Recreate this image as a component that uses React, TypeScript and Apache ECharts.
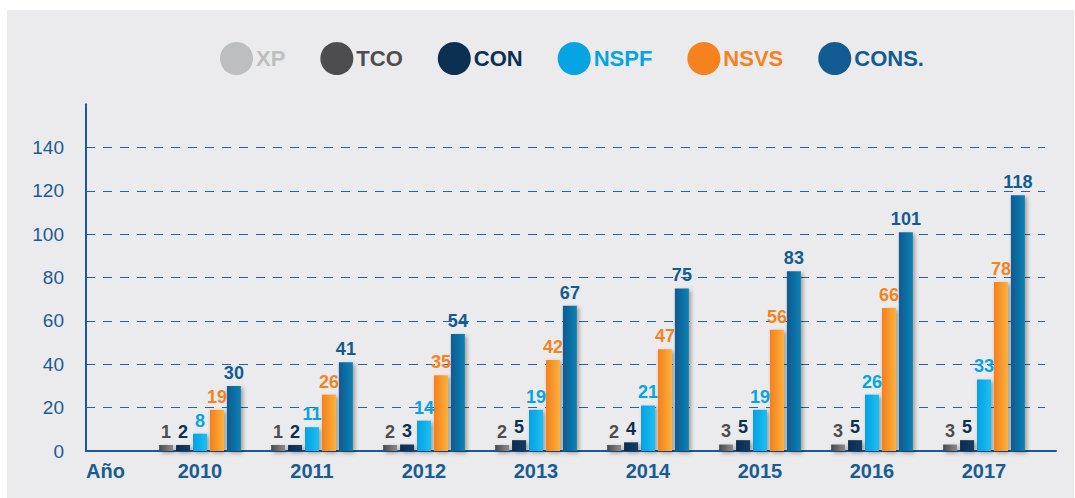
import React, { useEffect, useRef } from "react";
import * as echarts from "echarts";

const years = ["2010", "2011", "2012", "2013", "2014", "2015", "2016", "2017"];
const seriesNames = ["XP", "TCO", "CON", "NSPF", "NSVS", "CONS."];
const xpValues: number[] = [];
const tcoValues = [1, 1, 2, 2, 2, 3, 3, 3];
const conValues = [2, 2, 3, 5, 4, 5, 5, 5];
const nspfValues = [8, 11, 14, 19, 21, 19, 26, 33];
const nsvsValues = [19, 26, 35, 42, 47, 56, 66, 78];
const consValues = [30, 41, 54, 67, 75, 83, 101, 118];
const yTicks = { min: 0, max: 160, interval: 20 };

const FONT = "'Liberation Sans', Arial, Helvetica, sans-serif";
const AXIS = "#1a5b95";

const colors: Record<string, string> = {
  XP: "#bdbec0",
  TCO: "#4d4d4f",
  CON: "#0c2f52",
  NSPF: "#06a4e2",
  NSVS: "#f5821f",
  "CONS.": "#125b93",
};
const gradients: Record<string, [string, string]> = {
  TCO: ["#4a4a4c", "#8d8d90"],
  CON: ["#0b2c4e", "#123e68"],
  NSPF: ["#05a0de", "#19c0f2"],
  NSVS: ["#f47f20", "#fbb13a"],
  "CONS.": ["#125a92", "#0a82b2"],
};

export default function App() {
  const ref = useRef<HTMLDivElement>(null);
  useEffect(() => {
    if (!ref.current) return;
    const chart = echarts.init(ref.current, undefined, { renderer: "svg" });
    const barSeries = (name: string, data: number[]) => ({
      name,
      type: "bar",
      xAxisIndex: 0,
      yAxisIndex: 0,
      data,
      barWidth: 14,
      barGap: "21%",
      barMinHeight: 6,
      itemStyle: {
        color: new echarts.graphic.LinearGradient(0, 0, 1, 0, [
          { offset: 0, color: gradients[name][0] },
          { offset: 1, color: gradients[name][1] },
        ]),
        shadowColor: "rgba(0,0,0,0.35)",
        shadowBlur: 4,
        shadowOffsetX: 2,
        shadowOffsetY: 2,
      },
      label: {
        show: true,
        position: "top",
        distance: 4,
        color: colors[name],
        fontFamily: FONT,
        fontWeight: "bold",
        fontSize: 18,
      },
    });
    chart.setOption({
      animation: false,
      backgroundColor: "#ebebed",
      legend: {
        left: 208,
        top: 27,
        itemWidth: 33,
        itemHeight: 33,
        itemGap: 35,
        icon: "circle",
        selectedMode: false,
        data: seriesNames.map((n) => ({
          name: n,
          itemStyle: { color: colors[n], shadowBlur: 0 },
          textStyle: { color: colors[n] },
        })),
        textStyle: {
          fontFamily: FONT,
          fontWeight: "bold",
          fontSize: 22,
          padding: [0, 0, 0, -2],
        },
      },
      grid: [
        { left: 137, right: 34, top: 94.3, bottom: 47 },
        { left: 79, right: 29, top: 94.3, bottom: 47 },
        { left: 79, right: 18, top: 94.3, bottom: 47 },
      ],
      xAxis: [
        {
          type: "category",
          gridIndex: 0,
          data: years,
          axisLine: { show: false },
          axisTick: { show: false },
          axisLabel: {
            color: AXIS,
            fontFamily: FONT,
            fontWeight: "bold",
            fontSize: 20,
            margin: 10,
          },
        },
        {
          type: "value",
          gridIndex: 1,
          min: 0,
          max: 1,
          show: false,
        },
        {
          type: "value",
          gridIndex: 2,
          min: 0,
          max: 1,
          axisLine: { show: true, lineStyle: { color: AXIS, width: 2 } },
          axisTick: { show: false },
          axisLabel: { show: false },
          splitLine: { show: false },
        },
      ],
      yAxis: [
        { type: "value", gridIndex: 0, ...yTicks, show: false },
        {
          type: "value",
          gridIndex: 1,
          ...yTicks,
          axisLine: { show: true, lineStyle: { color: AXIS, width: 2 } },
          axisTick: { show: false },
          axisLabel: {
            color: AXIS,
            fontFamily: FONT,
            fontSize: 19,
            margin: 22,
            showMaxLabel: false,
          },
          splitLine: {
            show: true,
            showMinLine: false,
            showMaxLine: false,
            lineStyle: { color: "#2a6299", width: 1, type: [9, 8] },
          },
        },
        { type: "value", gridIndex: 2, ...yTicks, show: false },
      ],
      graphic: [
        {
          type: "text",
          left: 79,
          top: 451,
          style: {
            text: "Año",
            fill: AXIS,
            font: `bold 20px ${FONT}`,
          },
        },
      ],
      series: [
        {
          name: "XP",
          type: "line",
          xAxisIndex: 1,
          yAxisIndex: 1,
          data: xpValues,
          itemStyle: { color: colors.XP },
          lineStyle: { color: colors.XP },
        },
        barSeries("TCO", tcoValues),
        barSeries("CON", conValues),
        barSeries("NSPF", nspfValues),
        barSeries("NSVS", nsvsValues),
        barSeries("CONS.", consValues),
      ],
    });
    return () => chart.dispose();
  }, []);
  return (
    <div
      style={{
        position: "fixed",
        left: 0,
        top: 0,
        width: 1075,
        height: 498,
        background: "#ffffff",
      }}
    >
      <div
        ref={ref}
        style={{ position: "absolute", left: 7, top: 10, width: 1067, height: 488 }}
      />
    </div>
  );
}
